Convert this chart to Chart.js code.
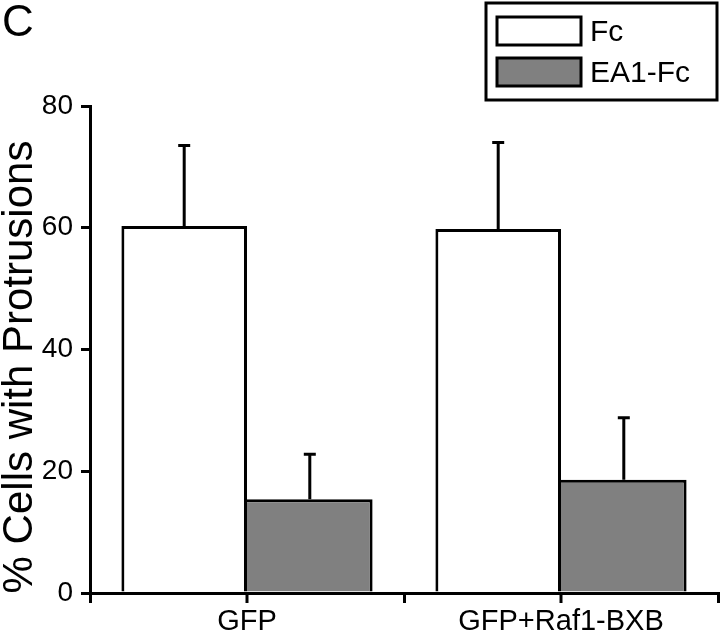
<!DOCTYPE html>
<html>
<head>
<meta charset="utf-8">
<script src="https://cdn.jsdelivr.net/npm/chart.js@4.4.1/dist/chart.umd.min.js"></script>
<style>
  html, body { margin: 0; padding: 0; background: #fff; }
  canvas { display: block; }
</style>
</head>
<body>
<canvas id="protrusionChart" width="720" height="632"></canvas>
<script>
const categories = ["GFP", "GFP+Raf1-BXB"];
const seriesNames = ["Fc", "EA1-Fc"];
const fcValues = [60.3, 59.8];
const fcErrors = [13.2, 14.2];
const ea1Values = [15.4, 18.6];
const ea1Errors = [7.4, 10.2];
const yTicks = [0, 20, 40, 60, 80];
const panelLabel = "C";
const yAxisTitle = "% Cells with Protrusions";

const FONT = "'Liberation Sans', Arial, sans-serif";

// Error bars, centre ticks on the x axis, panel letter, y title and boxed legend
const extrasPlugin = {
  id: "extras",
  afterDatasetsDraw(chart) {
    const ctx = chart.ctx;
    const yScale = chart.scales.y;
    ctx.save();
    ctx.strokeStyle = "#000";
    ctx.lineWidth = 3;
    chart.data.datasets.forEach((ds, i) => {
      const meta = chart.getDatasetMeta(i);
      meta.data.forEach((bar, j) => {
        const top = yScale.getPixelForValue(ds.data[j] + ds.errors[j]);
        ctx.beginPath();
        ctx.moveTo(bar.x, bar.y);
        ctx.lineTo(bar.x, top);
        ctx.moveTo(bar.x - 6, top);
        ctx.lineTo(bar.x + 6, top);
        ctx.stroke();
      });
    });
    ctx.restore();
  },
  afterDraw(chart) {
    const ctx = chart.ctx;
    const xScale = chart.scales.x;
    const bottom = chart.chartArea.bottom;
    ctx.save();

    // tick marks at the category centres
    ctx.strokeStyle = "#000";
    ctx.lineWidth = 3;
    categories.forEach((c, i) => {
      const x = xScale.getPixelForValue(i);
      ctx.beginPath();
      ctx.moveTo(x, bottom);
      ctx.lineTo(x, bottom + 10);
      ctx.stroke();
    });

    // panel letter
    ctx.fillStyle = "#000";
    ctx.font = "44px " + FONT;
    ctx.textAlign = "left";
    ctx.textBaseline = "top";
    ctx.fillText(panelLabel, 2, 2);

    // y axis title
    ctx.save();
    ctx.translate(20, 367);
    ctx.rotate(-Math.PI / 2);
    ctx.font = "42px " + FONT;
    ctx.textAlign = "center";
    ctx.textBaseline = "middle";
    ctx.fillText(yAxisTitle, 0, 0);
    ctx.restore();

    // legend box
    ctx.lineWidth = 3;
    ctx.strokeRect(486, 3, 231, 97);
    const rows = [31, 72];
    chart.data.datasets.forEach((ds, i) => {
      ctx.fillStyle = ds.backgroundColor;
      ctx.fillRect(497, rows[i] - 14, 84, 28);
      ctx.strokeRect(497, rows[i] - 14, 84, 28);
      ctx.fillStyle = "#000";
      ctx.font = "30px " + FONT;
      ctx.textAlign = "left";
      ctx.textBaseline = "middle";
      ctx.fillText(ds.label, 590, rows[i] + 2);
    });

    ctx.restore();
  }
};

const ctx = document.getElementById("protrusionChart").getContext("2d");
new Chart(ctx, {
  type: "bar",
  data: {
    labels: categories,
    datasets: [
      {
        label: seriesNames[0],
        data: fcValues,
        errors: fcErrors,
        backgroundColor: "#ffffff",
        borderColor: "#000000",
        borderWidth: { top: 3, left: 3, right: 3, bottom: 0 },
        borderSkipped: false,
      },
      {
        label: seriesNames[1],
        data: ea1Values,
        errors: ea1Errors,
        backgroundColor: "#808080",
        borderColor: "#000000",
        borderWidth: { top: 3, left: 0, right: 3, bottom: 0 },
        borderSkipped: false,
      },
    ],
  },
  options: {
    responsive: false,
    animation: false,
    layout: { padding: { top: 106, right: 2, left: 0, bottom: 0 } },
    plugins: {
      legend: { display: false },
      tooltip: { enabled: false },
      title: { display: false },
    },
    datasets: { bar: { categoryPercentage: 0.8, barPercentage: 1.0 } },
    scales: {
      x: {
        afterFit: (s) => { s.height = 39; },
        grid: {
          offset: true,
          drawOnChartArea: false,
          drawTicks: true,
          tickLength: 10,
          color: "#000",
          lineWidth: 3,
        },
        border: { display: true, color: "#000", width: 3 },
        ticks: {
          color: "#000",
          padding: 2,
          maxRotation: 0,
          font: { family: FONT, size: 29 },
        },
      },
      y: {
        min: 0,
        max: 80,
        afterFit: (s) => { s.width = 90; },
        afterBuildTicks: (s) => { s.ticks = yTicks.map((v) => ({ value: v })); },
        grid: {
          drawOnChartArea: false,
          drawTicks: true,
          tickLength: 9,
          color: "#000",
          lineWidth: 3,
        },
        border: { display: true, color: "#000", width: 3 },
        ticks: {
          color: "#000",
          padding: 8,
          font: { family: FONT, size: 28 },
        },
      },
    },
  },
  plugins: [extrasPlugin],
});
</script>
</body>
</html>
